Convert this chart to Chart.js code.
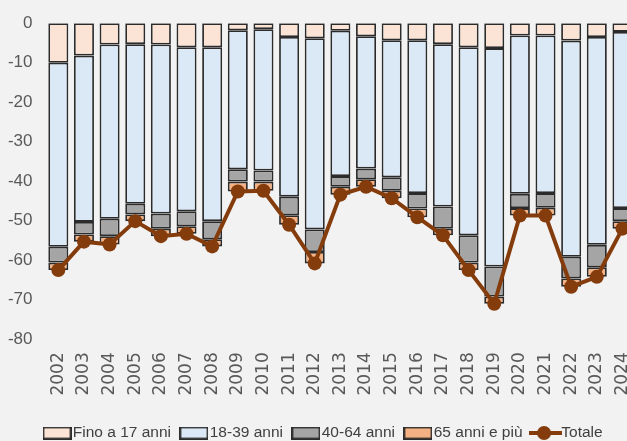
<!DOCTYPE html>
<html lang="it">
<head>
<meta charset="utf-8">
<title>Saldo per classe di età</title>
<script src="https://cdn.jsdelivr.net/npm/chart.js@4.4.1/dist/chart.umd.min.js"></script>
<style>
    html, body { margin: 0; padding: 0; background: #f2f2f2; overflow: hidden; }
    #wrap { width: 656px; height: 441px; }
</style>
</head>
<body>
<div id="wrap"><canvas id="chart" width="656" height="441"></canvas></div>
<script>
// ===================================
// DATA
// ===================================

const years = ['2002', '2003', '2004', '2005', '2006', '2007', '2008', '2009', '2010', '2011', '2012',
    '2013', '2014', '2015', '2016', '2017', '2018', '2019', '2020', '2021', '2022', '2023', '2024'];

const fino17 = [-10.0, -8.2, -5.4, -5.3, -5.4, -6.1, -6.1, -1.8, -1.5, -3.5, -3.8,
    -1.9, -3.3, -4.3, -4.3, -5.3, -6.1, -6.3, -3.1, -3.1, -4.4, -3.5, -2.2];
const anni18_39 = [-46.6, -42.1, -44.1, -40.4, -42.8, -41.5, -44.0, -35.2, -35.8, -40.4, -48.4,
    -36.8, -33.5, -34.7, -38.7, -41.1, -47.6, -55.3, -40.1, -39.9, -54.7, -52.6, -44.6];
const anni40_64 = [-4.0, -3.2, -4.4, -2.7, -3.8, -3.8, -4.6, -3.1, -2.8, -4.7, -5.7,
    -2.7, -2.7, -3.4, -3.9, -5.6, -6.9, -7.6, -3.6, -3.7, -5.5, -5.7, -3.3];
const anni65 = [-1.9, -1.8, -2.1, -1.7, -1.9, -1.9, -1.8, -2.5, -2.3, -2.4, -2.9,
    -2.0, -1.9, -1.9, -2.2, -1.7, -1.9, -1.8, -1.9, -2.0, -2.1, -2.4, -1.9];
const totale = [-62.5, -55.3, -56.0, -50.1, -53.9, -53.3, -56.5, -42.6, -42.4, -51.0, -60.8,
    -43.4, -41.4, -44.3, -49.1, -53.7, -62.5, -71.0, -48.7, -48.7, -66.7, -64.2, -52.0];

const yMin = -80;
const yMax = 0;
const yStep = 10;

// ===================================
// STYLE
// ===================================

const colors = {
    fino17: '#fbe4d5',
    anni18: '#dbe8f5',
    anni40: '#a5a5a5',
    anni65: '#f4b183',
    totale: '#843c0c',
    edge: '#2b2b2b',
    text: '#595959'
};

const sansFont = "'Liberation Sans', Arial, sans-serif";

// legend swatches drawn on small canvases
function boxSwatch(fill) {
    const c = document.createElement('canvas');
    c.width = 29;
    c.height = 13;
    const g = c.getContext('2d');
    g.fillStyle = fill;
    g.fillRect(0, 0, 29, 13);
    g.strokeStyle = colors.edge;
    g.lineWidth = 1.8;
    g.strokeRect(0.9, 0.9, 27.2, 11.2);
    return c;
}

function lineSwatch(color) {
    const c = document.createElement('canvas');
    c.width = 33;
    c.height = 16;
    const g = c.getContext('2d');
    g.strokeStyle = color;
    g.lineWidth = 4;
    g.beginPath();
    g.moveTo(0, 8);
    g.lineTo(33, 8);
    g.stroke();
    g.fillStyle = color;
    g.beginPath();
    g.arc(15, 8, 7, 0, Math.PI * 2);
    g.fill();
    return c;
}

const swatches = [
    boxSwatch(colors.fino17),
    boxSwatch(colors.anni18),
    boxSwatch(colors.anni40),
    boxSwatch(colors.anni65),
    lineSwatch(colors.totale)
];

// move the legend row so it starts under the plot area
const legendShift = {
    id: 'legendShift',
    afterLayout(chart) {
        chart.legend.left += 34;
        chart.legend.right += 34;
    }
};

function barSet(label, data, color) {
    return {
        label: label,
        data: data,
        backgroundColor: color,
        borderColor: colors.edge,
        borderWidth: 1.8,
        borderSkipped: false,
        barPercentage: 0.78,
        categoryPercentage: 1,
        stack: 'eta',
        order: 1
    };
}

// ===================================
// CHART
// ===================================

new Chart(document.getElementById('chart').getContext('2d'), {
    type: 'bar',
    data: {
        labels: years,
        datasets: [
            barSet('Fino a 17 anni', fino17, colors.fino17),
            barSet('18-39 anni', anni18_39, colors.anni18),
            barSet('40-64 anni', anni40_64, colors.anni40),
            barSet('65 anni e più', anni65, colors.anni65),
            {
                type: 'line',
                label: 'Totale',
                data: totale,
                borderColor: colors.totale,
                backgroundColor: colors.totale,
                borderWidth: 4,
                pointRadius: 7,
                pointHoverRadius: 7,
                pointBorderWidth: 0,
                pointBackgroundColor: colors.totale,
                tension: 0,
                stack: 'tot',
                order: 0
            }
        ]
    },
    plugins: [legendShift],
    options: {
        responsive: false,
        animation: false,
        layout: { padding: { left: 0, right: 5, top: 20, bottom: -9.75 } },
        scales: {
            x: {
                stacked: true,
                afterFit: scale => { scale.height = 71; },
                grid: { display: false, drawTicks: false },
                border: { display: false },
                ticks: {
                    autoSkip: false,
                    minRotation: 90,
                    maxRotation: 90,
                    padding: 13,
                    color: colors.text,
                    font: { family: "'DejaVu Sans', sans-serif", size: 17 }
                }
            },
            y: {
                stacked: true,
                min: yMin,
                max: yMax,
                afterFit: scale => { scale.width = 45.5; },
                grid: { display: false, drawTicks: false },
                border: { display: false },
                ticks: {
                    stepSize: yStep,
                    padding: 13,
                    color: colors.text,
                    font: { family: sansFont, size: 17 }
                }
            }
        },
        plugins: {
            tooltip: { enabled: false },
            legend: {
                position: 'bottom',
                align: 'start',
                labels: {
                    usePointStyle: true,
                    pointStyleWidth: 16,
                    boxHeight: 13,
                    padding: 15,
                    color: '#404040',
                    font: { family: sansFont, size: 15.5 },
                    sort: (a, b) => a.datasetIndex - b.datasetIndex,
                    generateLabels: chart => {
                        const items = Chart.defaults.plugins.legend.labels.generateLabels(chart);
                        items.forEach(it => { it.pointStyle = swatches[it.datasetIndex]; });
                        return items;
                    }
                }
            }
        }
    }
});
</script>
</body>
</html>
